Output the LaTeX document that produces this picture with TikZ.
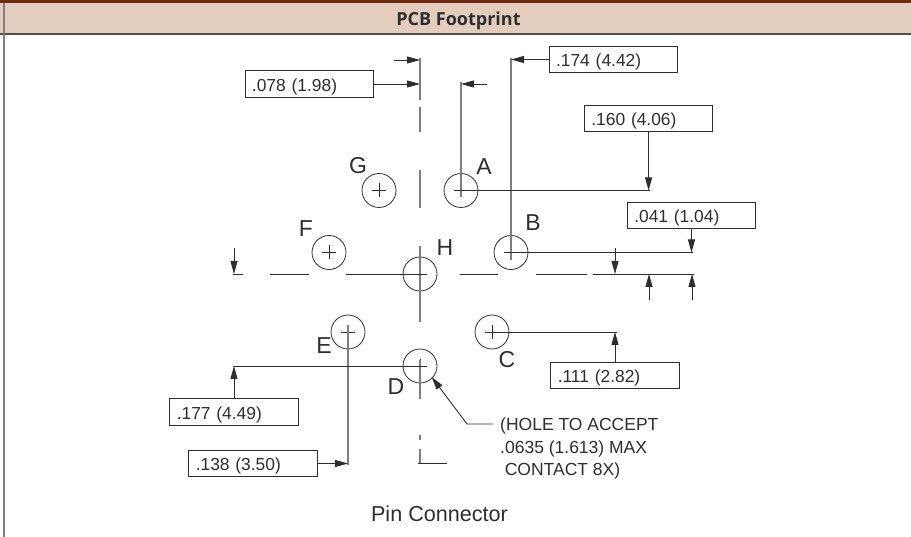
\documentclass[tikz,border=0pt]{standalone}
\usepackage{fontspec}
\setmainfont{Liberation Sans}
\newfontfamily\headfont{Open Sans}
\usetikzlibrary{arrows.meta}
\definecolor{ink}{HTML}{2E2E2E}
\definecolor{rule}{HTML}{7F7F7F}
\definecolor{band}{HTML}{E2CDBE}
\definecolor{brick}{HTML}{6E2A12}

\begin{document}
\begin{tikzpicture}[x=1pt,y=-1pt,
            hole/.style = {circle,draw=ink,line width=0.8pt,
            minimum size = 34pt,inner sep=0pt},
            dimbox/.style = {draw=ink,line width=0.9pt,text=ink,
            text width=114.5pt,minimum height=26.5pt,
            text height=15pt,text depth=0pt,
            inner xsep=7pt,inner ysep=0pt,align=left,
            font=\fontsize{17.4}{20}\selectfont},
            pinlabel/.style = {text=ink,inner sep=0pt,
            font=\fontsize{23}{26}\selectfont},
            dim/.style = {draw=ink,line width=0.9pt,
            -{Triangle[length=13pt,width=7pt]}},
            extline/.style = {draw=ink,line width=0.9pt},
            upright/.style = {draw=rule,line width=1.3pt},
            centre/.style = {draw=rule,line width=1.3pt}]
        \useasboundingbox (0,0) rectangle (911,537);

        % Title band
        \fill[band] (0,0) rectangle (911,34);
        \fill[brick] (0,0) rectangle (911,2.8);
        \draw[ink!85,line width=1.2pt] (0,34) -- (911,34);
        \draw[rule,line width=2pt] (4,2.8) -- (4,537);
        \node[text=ink,inner sep=0pt,font=\headfont\bfseries\fontsize{18}{20}\selectfont] (title) at (458.5,21) {PCB Footprint};

        % Holes
        \node[hole] (A) at (461,190.5) {};
        \node[hole] (B) at (511,252.5) {};
        \node[hole] (C) at (492,332) {};
        \node[hole] (D) at (420,366) {};
        \node[hole] (E) at (348,332) {};
        \node[hole] (F) at (329,252.5) {};
        \node[hole] (G) at (379,190.5) {};
        \node[hole] (H) at (420,274) {};

        % Hole crosses
        \foreach \n in {A,B,C,D,E,F,G,H}
            \draw[ink,line width=0.6pt] (\n.center) +(-7,0) -- +(7,0) +(0,-7) -- +(0,7);

        % Pin letters
        \node[pinlabel] (lA) at (484,167) {A};
        \node[pinlabel] (lB) at (533,223) {B};
        \node[pinlabel] (lC) at (507,360) {C};
        \node[pinlabel] (lD) at (396,387) {D};
        \node[pinlabel] (lE) at (324,346) {E};
        \node[pinlabel] (lF) at (306,229) {F};
        \node[pinlabel] (lG) at (358,166) {G};
        \node[pinlabel] (lH) at (445,248) {H};

        % Centre lines
        \foreach \a/\b in {58/100,107/132,170/208,246/322,360/398.7,435/440,449/463.7}
            \draw[centre] (420,\a) -- (420,\b);
        \foreach \a/\b in {270/309,346/427,460/498,536/587}
            \draw[extline] (\a,274) -- (\b,274);
        \draw[extline] (233,274) -- (243,274);
        \draw[extline] (593,274) -- (694,274);
        \draw[extline] (418,463.7) -- (447,463.7);

        % Dimension boxes
        \node[dimbox] (d078) at (309.2,84) {.078 (1.98)};
        \node[dimbox] (d174) at (613.3,59.5) {.174 (4.42)};
        \node[dimbox] (d160) at (648.6,118.5) {.160 (4.06)};
        \node[dimbox] (d041) at (691.5,215.5) {.041 (1.04)};
        \node[dimbox] (d111) at (615,375.5) {.111 (2.82)};
        \node[dimbox] (d177) at (234,412) {.177 (4.49)};
        \node[dimbox] (d138) at (253,463.5) {.138 (3.50)};

        % Extension lines
        \draw[upright] (461,82) -- (461,197);
        \draw[upright] (511,58) -- (511,260);
        \draw[upright] (348,325) -- (348,464.5);
        \draw[extline] (455,190.5) -- (650,190.5);
        \draw[extline] (505,252.5) -- (693,252.5);
        \draw[extline] (486,332) -- (617,332);
        \draw[extline] (233,366) -- (426,366);

        % Leaders from boxes
        \draw[dim] (d078.east) -- (420,84);
        \draw[dim] (d174.west) -- (511,59.5);
        \draw[dim] (d160.south) -- (648.6,190.5);
        \draw[dim] (d041.south) -- (691.5,252.5);
        \draw[dim] (d111.north) -- (615,332);
        \draw[dim] (d177.north) -- (234,366);
        \draw[dim] (d138.east) -- (348,463.5);

        % Free arrows
        \draw[dim] (394,60) -- (420,60);
        \draw[dim] (487,84) -- (461,84);
        \draw[dim] (234,248) -- (234,274);
        \draw[dim] (615,248) -- (615,274);
        \draw[dim] (649,300) -- (649,274);
        \draw[dim] (692,300) -- (692,274);

        % Hole note
        \node[text=ink,inner sep=0pt,anchor=north west,align=left,
            font=\fontsize{17.5}{22.5}\selectfont] (note) at (500,418)
            {(HOLE TO ACCEPT\\.0635 (1.613) MAX\\\hspace{4.6pt}CONTACT 8X)};
        \coordinate (bend) at (467,424);
        \draw[dim] (493,424) -- (bend) -- (431.7,377);

        % Caption
        \node[text=ink,inner sep=0pt,font=\fontsize{21.6}{24}\selectfont] (caption) at (439.5,514) {Pin Connector};
    \end{tikzpicture}
\end{document}
